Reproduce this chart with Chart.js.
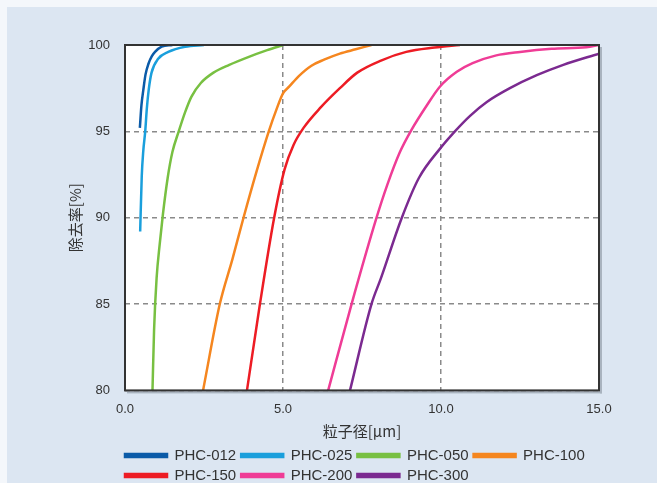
<!DOCTYPE html>
<html>
<head>
<meta charset="utf-8">
<script src="https://cdn.jsdelivr.net/npm/chart.js@4"></script>
<style>
    html, body { margin: 0; padding: 0; background: #f4f7fb; }
    #wrap {
        position: absolute;
        left: 7px;
        top: 7px;
        width: 650px;
        height: 476px;
        overflow: hidden;
        background: #dce6f2;
    }
</style>
</head>
<body>
<div id="wrap"><canvas id="chart" width="650" height="476"></canvas></div>
<script>
const seriesNames = ["PHC-012", "PHC-025", "PHC-050", "PHC-100", "PHC-150", "PHC-200", "PHC-300"];
const seriesColors = ["#0b5ba8", "#1a9fdc", "#78c042", "#f5861f", "#ed1c24", "#ef3c96", "#7b2a90"];

const phc012X = [0.47, 0.52, 0.58, 0.65, 0.74, 0.85, 0.95, 1.16, 1.5];
const phc012Y = [95.2, 96.5, 97.4, 98.3, 98.9, 99.35, 99.6, 99.9, 100];

const phc025X = [0.48, 0.53, 0.58, 0.64, 0.69, 0.75, 0.84, 1.05, 1.37, 1.9, 2.5];
const phc025Y = [89.2, 92.4, 93.9, 95.0, 96.3, 97.4, 98.4, 99.2, 99.6, 99.9, 100];

const phc050X = [0.87, 0.92, 1.0, 1.1, 1.2, 1.35, 1.5, 1.7, 1.9, 2.1, 2.4, 2.8, 3.3, 3.9, 4.5, 5.0];
const phc050Y = [80, 83.5, 86.5, 88.5, 90.2, 92.3, 93.8, 95.0, 96.1, 97.0, 97.8, 98.4, 98.85, 99.3, 99.7, 100];

const phc100X = [2.47, 3.0, 3.4, 3.75, 4.15, 4.55, 4.8, 5.0, 5.2, 5.5, 5.9, 6.3, 6.8, 7.3, 7.8];
const phc100Y = [80, 85, 87.6, 90, 92.6, 95, 96.3, 97.2, 97.6, 98.2, 98.8, 99.15, 99.5, 99.75, 100];

const phc150X = [3.86, 4.27, 4.72, 5.05, 5.33, 5.65, 6.2, 6.8, 7.35, 8.1, 8.9, 9.8, 10.6];
const phc150Y = [80, 85, 90, 92.8, 94.2, 95.2, 96.4, 97.5, 98.4, 99.1, 99.6, 99.85, 100];

const phc200X = [6.43, 7.17, 7.96, 8.3, 8.7, 9.07, 9.55, 9.97, 10.5, 11.0, 11.75, 12.5, 13.5, 14.6, 15];
const phc200Y = [80, 85, 90, 91.9, 93.8, 95.1, 96.5, 97.6, 98.45, 98.95, 99.4, 99.6, 99.78, 99.87, 100];

const phc300X = [7.12, 7.8, 8.1, 8.76, 9.3, 9.97, 10.44, 10.92, 11.45, 12.18, 13.03, 13.87, 15];
const phc300Y = [80, 85, 86.5, 90, 92.3, 94.0, 95.0, 95.9, 96.7, 97.5, 98.25, 98.85, 99.5];

const xTicks = [0, 5, 10, 15];
const yTicks = [80, 85, 90, 95, 100];

const allX = [phc012X, phc025X, phc050X, phc100X, phc150X, phc200X, phc300X];
const allY = [phc012Y, phc025Y, phc050Y, phc100Y, phc150Y, phc200Y, phc300Y];

const datasets = seriesNames.map((name, i) => ({
    label: name,
    data: allX[i].map((x, j) => ({ x: x, y: allY[i][j] })),
    borderColor: seriesColors[i],
    backgroundColor: seriesColors[i],
    borderWidth: 2.5,
    pointRadius: 0,
    cubicInterpolationMode: "monotone",
}));

// white plot area + frame
const frame = {
    id: "frame",
    beforeDraw(chart) {
        const { ctx, chartArea: a } = chart;
        ctx.save();
        ctx.fillStyle = "#ffffff";
        ctx.fillRect(a.left, a.top, a.right - a.left, a.bottom - a.top);
        ctx.restore();
    },
    beforeDatasetsDraw(chart) {
        const { ctx, chartArea: a } = chart;
        ctx.save();
        ctx.fillStyle = "#a9b3bf";
        ctx.fillRect(a.right + 1, a.top + 2, 2, a.bottom - a.top + 1);
        ctx.fillRect(a.left + 2, a.bottom + 1, a.right - a.left + 1, 2);
        ctx.restore();
    },
    afterDatasetsDraw(chart) {
        const { ctx, chartArea: a } = chart;
        ctx.save();
        ctx.strokeStyle = "#333";
        ctx.lineWidth = 2;
        ctx.strokeRect(a.left, a.top, a.right - a.left, a.bottom - a.top);
        ctx.restore();
    },
    afterLayout(chart) {
        // legend rows start under the plot's left edge
        chart.legend.left = chart.chartArea.left - 5;
    },
};

const gridStyle = {
    color: "#8a8a8a",
    lineWidth: 1.5,
    drawTicks: false,
};

new Chart(document.getElementById("chart"), {
    type: "line",
    data: { datasets: datasets },
    options: {
        responsive: false,
        animation: false,
        layout: { padding: { left: 50, right: 58, top: 38, bottom: -10 } },
        plugins: {
            legend: {
                position: "bottom",
                align: "start",
                labels: {
                    boxWidth: 42,
                    boxHeight: 3,
                    padding: 5,
                    color: "#333",
                    font: { size: 15, family: "'Liberation Sans', sans-serif" },
                },
            },
            tooltip: { enabled: false },
        },
        scales: {
            x: {
                type: "linear",
                min: 0,
                max: 15,
                afterBuildTicks: (s) => { s.ticks = xTicks.map((v) => ({ value: v })); },
                border: { display: false, dash: [5, 4] },
                grid: gridStyle,
                ticks: {
                    padding: 11,
                    color: "#333",
                    font: { size: 13, family: "'Liberation Sans', sans-serif" },
                    callback: (v) => v.toFixed(1),
                },
                title: {
                    display: true,
                    text: "粒子径[μm]",
                    color: "#333",
                    padding: { top: -6, bottom: 3 },
                    font: { size: 15, family: "'Noto Sans CJK JP', sans-serif" },
                },
            },
            y: {
                min: 80,
                max: 100,
                afterBuildTicks: (s) => { s.ticks = yTicks.map((v) => ({ value: v })); },
                afterFit: (s) => { s.width = 68; },
                border: { display: false, dash: [5, 4] },
                grid: gridStyle,
                ticks: {
                    padding: 15,
                    color: "#333",
                    font: { size: 13, family: "'Liberation Sans', sans-serif" },
                },
                title: {
                    display: true,
                    text: "除去率[%]",
                    color: "#333",
                    padding: { top: 9, bottom: 0 },
                    font: { size: 15, family: "'Noto Sans CJK JP', sans-serif" },
                },
            },
        },
    },
    plugins: [frame],
});
</script>
</body>
</html>
